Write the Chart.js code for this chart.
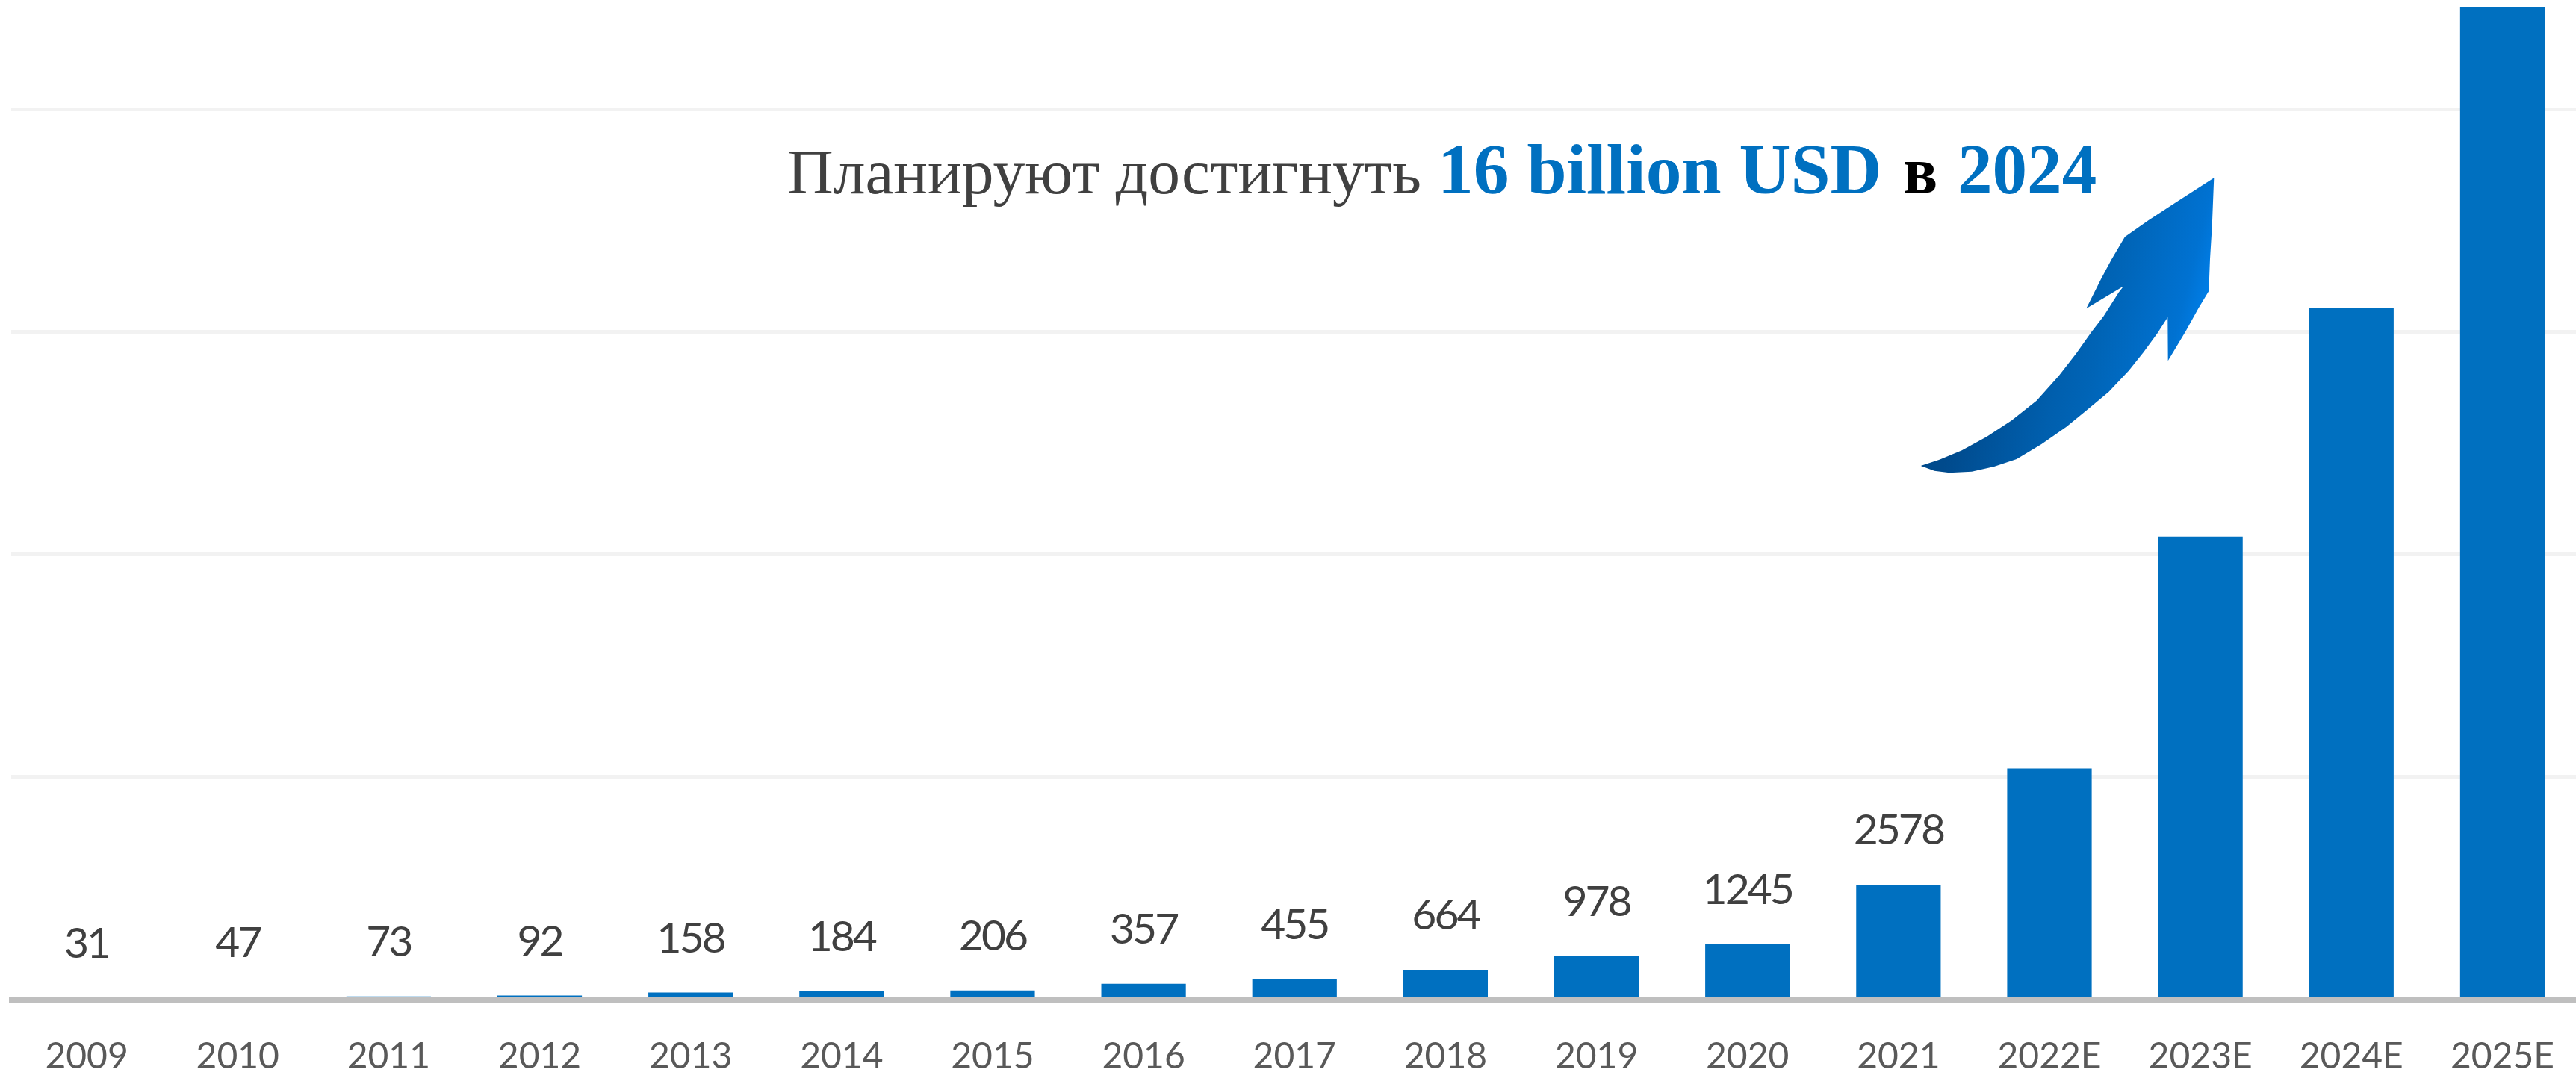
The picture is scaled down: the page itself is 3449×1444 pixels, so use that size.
<!DOCTYPE html>
<html>
<head>
<meta charset="utf-8">
<title>Chart</title>
<script src="https://cdn.jsdelivr.net/npm/chart.js@4/dist/chart.umd.min.js"></script>
<style>
    html, body { margin: 0; padding: 0; background: #fff; overflow: hidden; width: 3449px; height: 1444px; }
    canvas { display: block; }
</style>
</head>
<body>
<canvas id="marketChart" width="3460" height="1444"></canvas>
<script>
// values, bars after 2021 have no printed number
const categories = ['2009', '2010', '2011', '2012', '2013', '2014', '2015', '2016', '2017', '2018', '2019', '2020', '2021', '2022E', '2023E', '2024E', '2025E'];
const marketValues = [31, 47, 73, 92, 158, 184, 206, 357, 455, 664, 978, 1245, 2578, 5190, 10400, 15540, 22300];
const printedValues = ['31', '47', '73', '92', '158', '184', '206', '357', '455', '664', '978', '1245', '2578', null, null, null, null];
const gridValues = [0, 5000, 10000, 15000, 20000];
const calloutTexts = ['Планируют достигнуть', '16 billion USD', 'в', '2024'];
// outline of the decorative arrow, in page pixels
const arrowOutline = [
    [2964.3, 238.3], [2961.7, 303.3], [2959, 346.7], [2957.3, 390], [2943.3, 413.3], [2926.7, 443.3], [2902.7, 483.3],
    [2902.3, 425], [2888.3, 446.7], [2870, 471.7], [2850, 496.7], [2823.3, 525], [2793.3, 550], [2766.7, 571.7],
    [2733.3, 595], [2700, 615], [2670, 625], [2640, 631.7], [2610, 633.3], [2590, 630.7], [2571.7, 624],
    [2596.7, 615.7], [2626.7, 603.3], [2660, 585], [2693.3, 563.3], [2726.7, 536.7], [2756.7, 503.3], [2780, 473.3],
    [2800, 445], [2816.7, 423.3], [2836.7, 391.7], [2843.3, 383.3], [2793.3, 413.3], [2813.3, 373.3], [2826.7, 348.3],
    [2845, 317.3], [2876.7, 295], [2910, 273.3]
];

// Numbers above the bars
const valueLabels = {
    id: 'valueLabels',
    afterDatasetsDraw(chart) {
        const ctx = chart.ctx;
        const bars = chart.getDatasetMeta(0).data;
        ctx.save();
        ctx.font = '57px Lato';
        ctx.fillStyle = '#404040';
        ctx.textAlign = 'center';
        ctx.textBaseline = 'alphabetic';
        ctx.letterSpacing = '-3px';
        bars.forEach((bar, i) => {
            if (printedValues[i] !== null) {
                ctx.fillText(printedValues[i], bar.x, bar.y - 54);
            }
        });
        ctx.restore();
    }
};

// Callout text and the blue arrow
const callout = {
    id: 'callout',
    afterDraw(chart) {
        const ctx = chart.ctx;
        const drawRun = (text, font, color, x, squeeze) => {
            ctx.save();
            ctx.translate(x, 259);
            ctx.scale(squeeze, 1);
            ctx.font = font;
            ctx.fillStyle = color;
            ctx.fillText(text, 0, 0);
            ctx.restore();
        };
        ctx.save();
        ctx.textBaseline = 'alphabetic';
        drawRun(calloutTexts[0], '85.5px "Liberation Serif"', '#404040', 1054, 1);
        drawRun(calloutTexts[1], 'bold 96px "Liberation Serif"', '#0070C0', 1925, 0.995);
        drawRun(calloutTexts[2], 'bold 90px "Liberation Serif"', '#000000', 2548, 0.95);
        drawRun(calloutTexts[3], 'bold 96px "Liberation Serif"', '#0070C0', 2621, 0.97);
        const grad = ctx.createLinearGradient(2600, 630, 2876, 699);
        grad.addColorStop(0, '#004a8c');
        grad.addColorStop(0.43, '#005fae');
        grad.addColorStop(0.57, '#0064b6');
        grad.addColorStop(0.91, '#0072d2');
        grad.addColorStop(1, '#007ce4');
        ctx.fillStyle = grad;
        ctx.beginPath();
        arrowOutline.forEach((p, i) => i ? ctx.lineTo(p[0], p[1]) : ctx.moveTo(p[0], p[1]));
        ctx.closePath();
        ctx.fill();
        ctx.restore();
    }
};

new Chart(document.getElementById('marketChart').getContext('2d'), {
    type: 'bar',
    data: {
        labels: categories,
        datasets: [{
            data: marketValues,
            backgroundColor: '#0070C0',
            borderWidth: 0,
            categoryPercentage: 1,
            barPercentage: 0.56
        }]
    },
    plugins: [valueLabels, callout],
    options: {
        responsive: false,
        devicePixelRatio: 1,
        animation: false,
        layout: { padding: { left: 15, right: 0.5, top: 0, bottom: 0 } },
        plugins: {
            legend: { display: false },
            tooltip: { enabled: false },
            title: { display: false }
        },
        scales: {
            x: {
                afterFit(scale) { scale.height = 105; },
                grid: { display: false },
                border: { display: true, color: '#bfbfbf', width: 7, z: 1 },
                ticks: {
                    color: '#595959',
                    font: { family: 'Lato', size: 48 },
                    padding: 40,
                    maxRotation: 0,
                    autoSkip: false
                }
            },
            y: {
                min: 0,
                max: 22450,
                afterFit(scale) { scale.width = 0; },
                // stepSize gets ignored with this max, so set the lines directly
                afterBuildTicks(scale) { scale.ticks = gridValues.map(value => ({ value })); },
                ticks: { display: false },
                border: { display: false },
                grid: { color: '#f2f2f2', lineWidth: 5, drawTicks: false }
            }
        }
    }
});
</script>
</body>
</html>
